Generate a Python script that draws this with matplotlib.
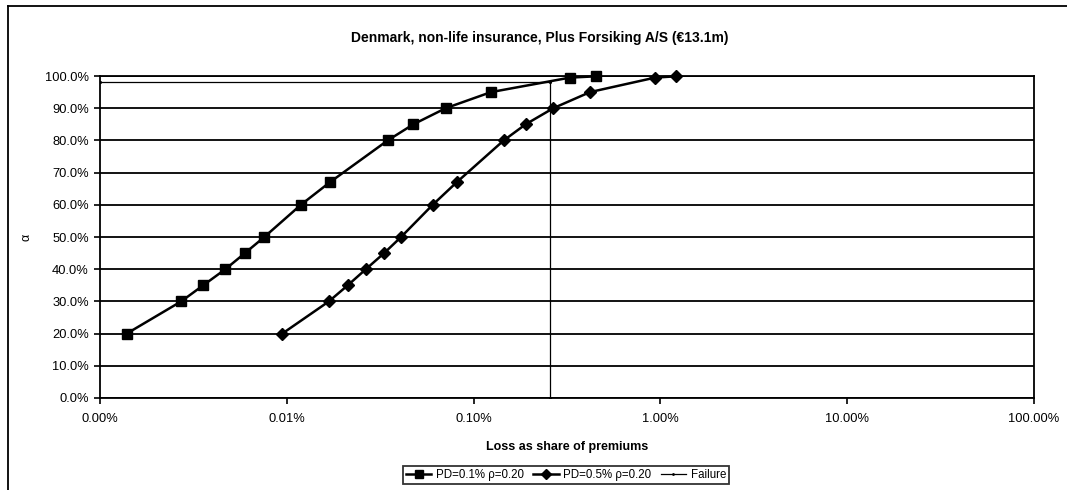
import matplotlib
matplotlib.use("Agg")
import matplotlib.pyplot as plt
from matplotlib.lines import Line2D
from matplotlib.ticker import FixedLocator, FuncFormatter, NullLocator

# ---- data (x in % of premiums, y = alpha in %) ----
alpha_pd01 = [20, 30, 35, 40, 45, 50, 60, 67, 80, 85, 90, 95, 99.5, 99.9]
loss_pd01 = [0.00139, 0.00272, 0.00357, 0.00469, 0.00597, 0.00758, 0.0119,
             0.0170, 0.0347, 0.0476, 0.0709, 0.124, 0.328, 0.451]

alpha_pd05 = [20, 30, 35, 40, 45, 50, 60, 67, 80, 85, 90, 95, 99.5, 99.9]
loss_pd05 = [0.00946, 0.0168, 0.0212, 0.0265, 0.0332, 0.0409, 0.0604,
             0.0812, 0.145, 0.190, 0.267, 0.420, 0.936, 1.21]

failure_x = [0.001, 0.257, 0.257]
failure_y = [98.2, 98.2, 0.0]

x_ticks = [0.001, 0.01, 0.1, 1, 10, 100]
y_ticks = [0, 10, 20, 30, 40, 50, 60, 70, 80, 90, 100]

title = "Denmark, non-life insurance, Plus Forsiking A/S (\u20ac13.1m)"
xlabel = "Loss as share of premiums"
ylabel = "\u03b1"
labels = ["PD=0.1% \u03c1=0.20", "PD=0.5% \u03c1=0.20", "Failure"]

plt.rcParams['font.family'] = ['Liberation Sans', 'DejaVu Sans']
narrow_bold = ['Liberation Sans Narrow', 'Liberation Sans', 'DejaVu Sans']

W, H = 1067, 490
fig = plt.figure(figsize=(W / 100, H / 100), dpi=100)
L, R, T, B = 100, 1034, 76, 398
ax = fig.add_axes([L / W, 1 - B / H, (R - L) / W, (B - T) / H])

ax.plot(loss_pd01, alpha_pd01, color='black', lw=1.8, marker='s', ms=7.5,
        label=labels[0], zorder=4, clip_on=False)
ax.plot(loss_pd05, alpha_pd05, color='black', lw=1.8, marker='D', ms=6.3,
        label=labels[1], zorder=4, clip_on=False)
ax.plot(failure_x, failure_y, color='black', lw=0.9, marker='.', ms=2.5,
        label=labels[2], zorder=3)

ax.set_xscale('log')
ax.set_xlim(0.001, 100)
ax.set_ylim(0, 100)
ax.xaxis.set_major_locator(FixedLocator(x_ticks))
ax.xaxis.set_minor_locator(NullLocator())
ax.xaxis.set_major_formatter(FuncFormatter(lambda v, p: f"{v:.2f}%"))
ax.yaxis.set_major_locator(FixedLocator(y_ticks))
ax.yaxis.set_major_formatter(FuncFormatter(lambda v, p: f"{v:.1f}%"))

ax.yaxis.grid(True, color='black', lw=1.3)
ax.set_axisbelow(True)
for s in ax.spines.values():
    s.set_color('black')
    s.set_linewidth(1.3)

ax.tick_params(axis='both', direction='out', length=4, width=1.2,
               colors='black', labelsize=9.3)
ax.tick_params(axis='x', pad=7)
ax.tick_params(axis='y', pad=4)

ax.set_xlabel(xlabel, fontsize=9, fontweight='bold', family=narrow_bold)
ax.xaxis.set_label_coords(0.5, -(441 - B) / (B - T))
ax.set_ylabel(ylabel, fontsize=9)
ax.yaxis.set_label_coords(-(L - 33) / (R - L), 0.5)

fig.text(540 / W, 1 - 38 / H, title, ha='center', va='center',
         fontsize=10, fontweight='bold', family=narrow_bold)

leg = fig.legend(loc='center', bbox_to_anchor=(566 / W, 1 - 475 / H), ncol=3,
                 frameon=True, fancybox=False, edgecolor='black', fontsize=8.3,
                 handlelength=2.2, handletextpad=0.4, columnspacing=0.8,
                 borderpad=0.3, markerscale=0.8)
leg.get_frame().set_linewidth(1.3)

# outer chart border (top and left)
fig.add_artist(Line2D([8 / W, 1.0], [1 - 6 / H, 1 - 6 / H], color='black', lw=1.3))
fig.add_artist(Line2D([8 / W, 8 / W], [0.0, 1 - 6 / H], color='black', lw=1.3))

fig.savefig('out.png', dpi=100)
